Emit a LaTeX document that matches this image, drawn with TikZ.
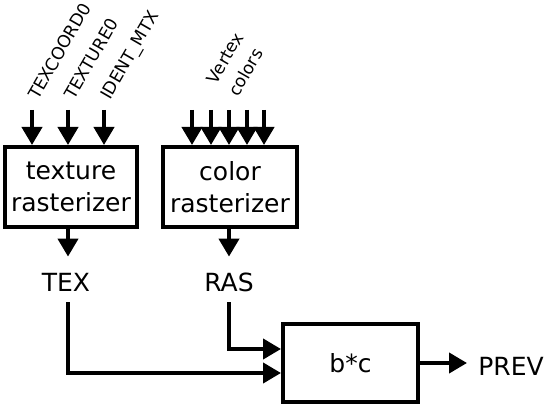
\documentclass[tikz,border=0pt]{standalone}
\usepackage{fontspec}
\setmainfont{DejaVu Sans}
\usetikzlibrary{arrows.meta}
\usetikzlibrary{positioning}
\tikzstyle{every node}+=[inner sep=0pt]
\tikzstyle{block} = [rectangle, draw, line width=2pt, font=\fontsize{12.5}{16}\selectfont, align=center]
\tikzstyle{line} = [draw, line width=2pt, -{Triangle[length=9pt,width=10pt]}]
\tikzstyle{value} = [font=\fontsize{12.5}{15}\selectfont, inner xsep=5.5pt, inner ysep=5pt, text height=12.5pt, text depth=0pt, anchor=base]
\tikzstyle{signal} = [font=\fontsize{8.6}{12.5}\selectfont, rotate=60, anchor=base west, align=left]

\begin{document}
\begin{tikzpicture}[x=0.5pt, y=-0.5pt]
            \useasboundingbox (0,0) rectangle (546,406);
            % Place nodes
            \node [block, minimum width=66pt, minimum height=40pt] (txr) at (71,187) {texture\\rasterizer};
            \node [block, minimum width=67pt, minimum height=40pt] (clr) at (230,187) {color\\rasterizer};
            \node [block, minimum width=67.5pt, minimum height=39pt] (mul) at (350.5,363) {b*c};
            \node [value] (tex) at (66,292) {TEX};
            \node [value] (ras) at (229,292) {RAS};
            \node [value, anchor=base west] (prev) at (467,375) {PREV};
            % Input labels
            \node [signal] (tc0) at (38,101) {TEXCOORD0};
            \node [signal] (tx0) at (74,101) {TEXTURE0};
            \node [signal] (idm) at (110,101) {IDENT\_MTX};
            \node [signal] (vcol) at (238,98) {Vertex\\colors};
            % Draw edges
            \foreach \i/\x in {a/32,b/68,c/104} {
              \coordinate (t\i) at (\x,110);
              \path [line] (t\i) -- (t\i |- txr.north);
            }
            \foreach \i/\x in {a/192,b/211,c/229,d/247,e/264} {
              \coordinate (c\i) at (\x,110);
              \path [line] (c\i) -- (c\i |- clr.north);
            }
            \path [line] (tb |- txr.south) -- (tb |- tex.north);
            \path [line] (cc |- clr.south) -- (cc |- ras.north);
            \path [line] (cc |- ras.south) |- ([yshift=7pt]mul.west);
            \path [line] (tb |- tex.south) |- ([yshift=-5pt]mul.west);
            \path [line] (mul.east) -- (mul.east -| prev.west);
\end{tikzpicture}
\end{document}
